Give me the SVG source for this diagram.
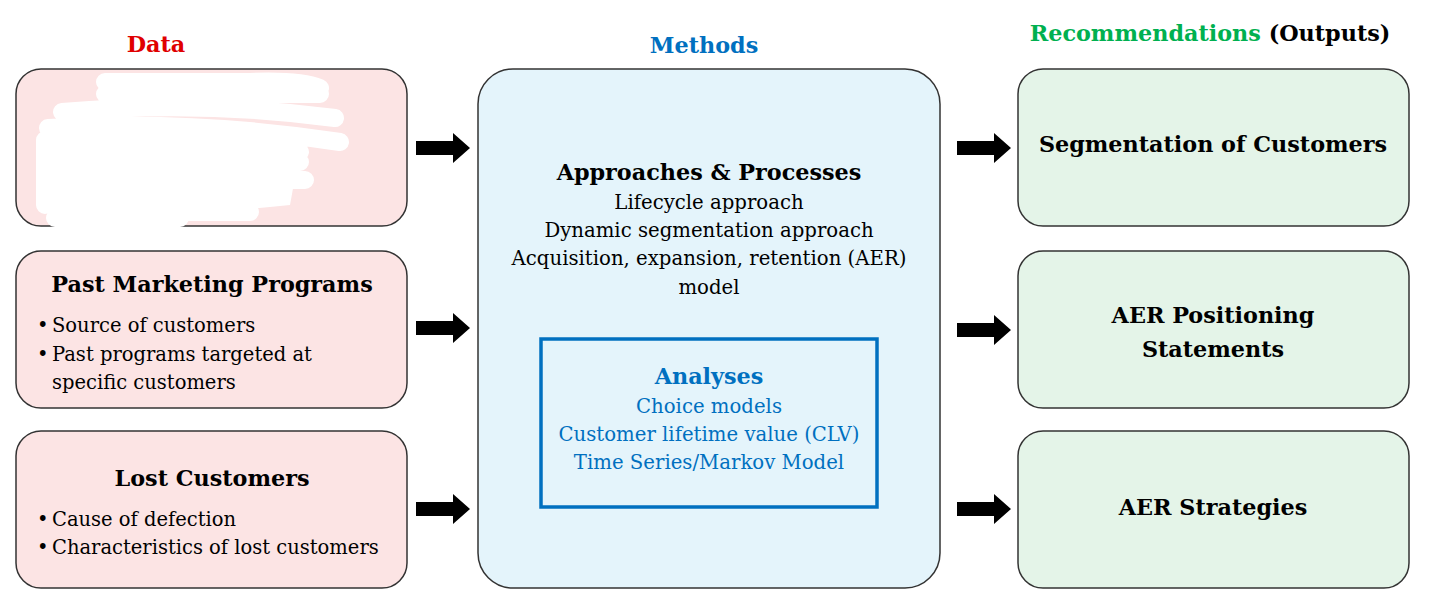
<svg xmlns="http://www.w3.org/2000/svg" width="1430" height="595" viewBox="0 0 1430 595">
<defs>
<style>
text{font-family:"DejaVu Serif","Liberation Serif",serif;}
.hd{font-weight:bold;font-size:22.3px;text-anchor:middle;}
.t{font-size:19.7px;text-anchor:middle;fill:#000;}
.b{font-size:19.5px;fill:#000;}
.red{fill:#FCE4E4;stroke:#333;stroke-width:1.5;}
.blu{fill:#E4F4FB;stroke:#333;stroke-width:1.5;}
.grn{fill:#E4F4E8;stroke:#333;stroke-width:1.5;}
.scr{fill:none;stroke:#fff;stroke-linecap:round;stroke-linejoin:round;stroke-width:18;}
</style>
<path id="arr" d="M0,-7 H37 V-15 L54,0 L37,15 V7 H0 Z" fill="#000"/>
</defs>
<text x="156" y="52" class="hd" style="fill:#E00000">Data</text>
<text x="704" y="53" class="hd" style="fill:#0070C0">Methods</text>
<text x="1210" y="41" class="hd"><tspan style="fill:#00B050">Recommendations</tspan> <tspan style="fill:#000">(Outputs)</tspan></text>

<g id="data1">
<rect x="16" y="69" width="391" height="157" rx="25" class="red"/>
<path class="scr" d="M105,82 H250 Q300,80 320,88 M105,94 H320 M62,112 Q200,100 335,118 M48,128 Q200,120 340,142 M50,146 Q180,138 300,152 M45,162 H300 M45,180 H305 M50,196 H280 M58,212 H250 M45,140 V205 M55,218 H180"/>
<path d="M45,125 Q190,118 320,132 L300,150 L290,205 Q200,215 60,216 L45,205 Z" fill="#fff"/>
</g>
<g id="data2">
<rect x="16" y="251" width="391" height="157" rx="25" class="red"/>
<text x="212" y="292" class="hd" style="fill:#000">Past Marketing Programs</text>
<text x="37" y="332" class="b">•</text><text x="52" y="332" class="b">Source of customers</text>
<text x="37" y="361" class="b">•</text><text x="52" y="361" class="b">Past programs targeted at</text>
<text x="52" y="389" class="b">specific customers</text>
</g>
<g id="data3">
<rect x="16" y="431" width="391" height="157" rx="25" class="red"/>
<text x="212" y="486" class="hd" style="fill:#000">Lost Customers</text>
<text x="37" y="526" class="b">•</text><text x="52" y="526" class="b">Cause of defection</text>
<text x="37" y="554" class="b">•</text><text x="52" y="554" class="b">Characteristics of lost customers</text>
</g>

<g id="methods">
<rect x="478" y="69" width="462" height="519" rx="35" class="blu"/>
<text x="709" y="180" class="hd" style="fill:#000">Approaches &amp; Processes</text>
<text x="709" y="209" class="t">Lifecycle approach</text>
<text x="709" y="237" class="t">Dynamic segmentation approach</text>
<text x="709" y="265" class="t">Acquisition, expansion, retention (AER)</text>
<text x="709" y="294" class="t">model</text>
</g>
<g id="analyses">
<rect x="541" y="339" width="336" height="168" fill="none" stroke="#0070C0" stroke-width="3.5"/>
<text x="709" y="384" class="hd" style="fill:#0070C0">Analyses</text>
<text x="709" y="413" class="t" style="fill:#0070C0">Choice models</text>
<text x="709" y="441" class="t" style="fill:#0070C0">Customer lifetime value (CLV)</text>
<text x="709" y="469" class="t" style="fill:#0070C0">Time Series/Markov Model</text>
</g>

<g id="out1">
<rect x="1018" y="69" width="391" height="157" rx="25" class="grn"/>
<text x="1213" y="152" class="hd" style="fill:#000">Segmentation of Customers</text>
</g>
<g id="out2">
<rect x="1018" y="251" width="391" height="157" rx="25" class="grn"/>
<text x="1213" y="323" class="hd" style="fill:#000">AER Positioning</text>
<text x="1213" y="357" class="hd" style="fill:#000">Statements</text>
</g>
<g id="out3">
<rect x="1018" y="431" width="391" height="157" rx="25" class="grn"/>
<text x="1213" y="515" class="hd" style="fill:#000">AER Strategies</text>
</g>

<g id="connectors">
<use href="#arr" x="416" y="148"/>
<use href="#arr" x="416" y="328"/>
<use href="#arr" x="416" y="509"/>
<use href="#arr" x="957" y="148"/>
<use href="#arr" x="957" y="330"/>
<use href="#arr" x="957" y="509"/>
</g>
</svg>
